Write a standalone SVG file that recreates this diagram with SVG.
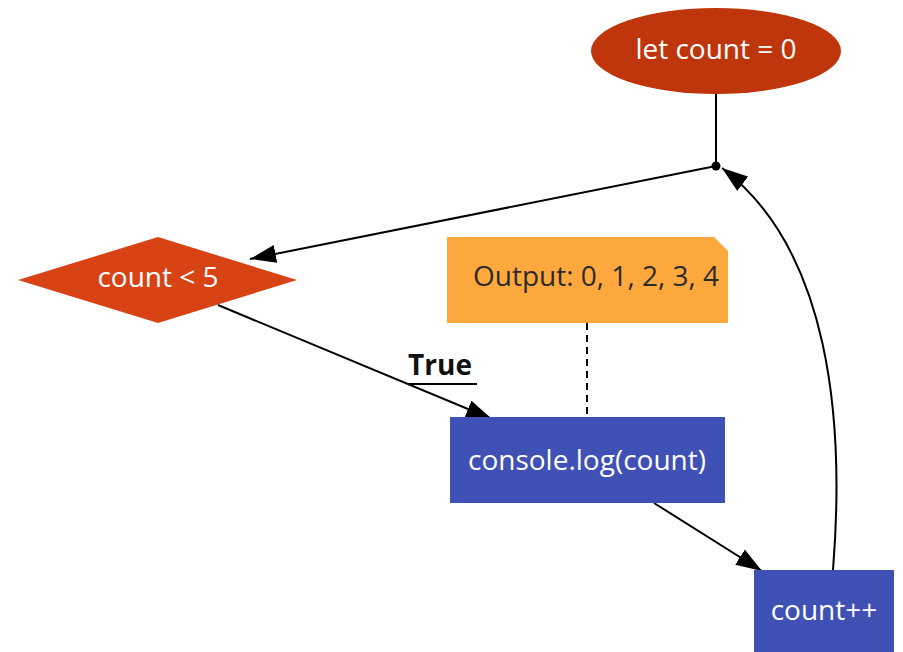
<svg xmlns="http://www.w3.org/2000/svg" width="903" height="652" viewBox="0 0 903 652">
  <style>
    .lbl { font-family: "Open Sans", "Noto Sans", sans-serif; font-size: 28px; text-anchor: middle; }
    .light { fill: #ffffff; }
    .dark { fill: #2b2b2b; }
    .edge { fill: none; stroke: #000000; stroke-width: 2; }
  </style>
  <defs>
    <marker id="arrow" viewBox="0 0 26 18" refX="26" refY="9" markerWidth="26" markerHeight="18" orient="auto" markerUnits="userSpaceOnUse">
      <path d="M0,0 L26,9 L0,18 z" fill="#000000"/>
    </marker>
  </defs>
  <rect width="903" height="652" fill="#ffffff"/>

  <g id="connectors">
    <line class="edge" x1="716" y1="94" x2="716" y2="166"/>
    <circle cx="716" cy="166" r="4.5" fill="#000000"/>
    <line class="edge" x1="716" y1="166" x2="250" y2="259" marker-end="url(#arrow)"/>
    <line class="edge" x1="218" y1="305" x2="492" y2="419" marker-end="url(#arrow)"/>
    <text x="440" y="375" font-family="'Open Sans', 'Noto Sans', sans-serif" font-size="28" font-weight="bold" text-anchor="middle" fill="#111111">True</text>
    <line x1="408" y1="384" x2="477" y2="384" stroke="#000000" stroke-width="2"/>
    <line x1="587" y1="323" x2="587" y2="417" stroke="#000000" stroke-width="2" stroke-dasharray="7,5"/>
    <line class="edge" x1="654" y1="503" x2="762" y2="571" marker-end="url(#arrow)"/>
    <path class="edge" d="M833,570 C845,420 830,250 722,168" marker-end="url(#arrow)"/>
  </g>

  <g id="start">
    <ellipse cx="716" cy="51" rx="125" ry="43" fill="#BF360C"/>
    <text class="lbl light" x="716" y="59">let count = 0</text>
  </g>

  <g id="condition">
    <polygon points="18,280 158,237 297,280 158,323" fill="#D84315"/>
    <text class="lbl light" x="158" y="287">count &lt; 5</text>
  </g>

  <g id="note">
    <path d="M447,237 H714 L728,251 V323 H447 z" fill="#FFA83E"/>
    <text class="lbl dark" x="596" y="286">Output: 0, 1, 2, 3, 4</text>
  </g>

  <g id="log">
    <rect x="450" y="417" width="275" height="86" fill="#3F51B5"/>
    <text class="lbl light" x="587" y="470">console.log(count)</text>
  </g>

  <g id="increment">
    <rect x="754" y="570" width="140" height="90" fill="#3F51B5"/>
    <text class="lbl light" x="824" y="620">count++</text>
  </g>
</svg>
